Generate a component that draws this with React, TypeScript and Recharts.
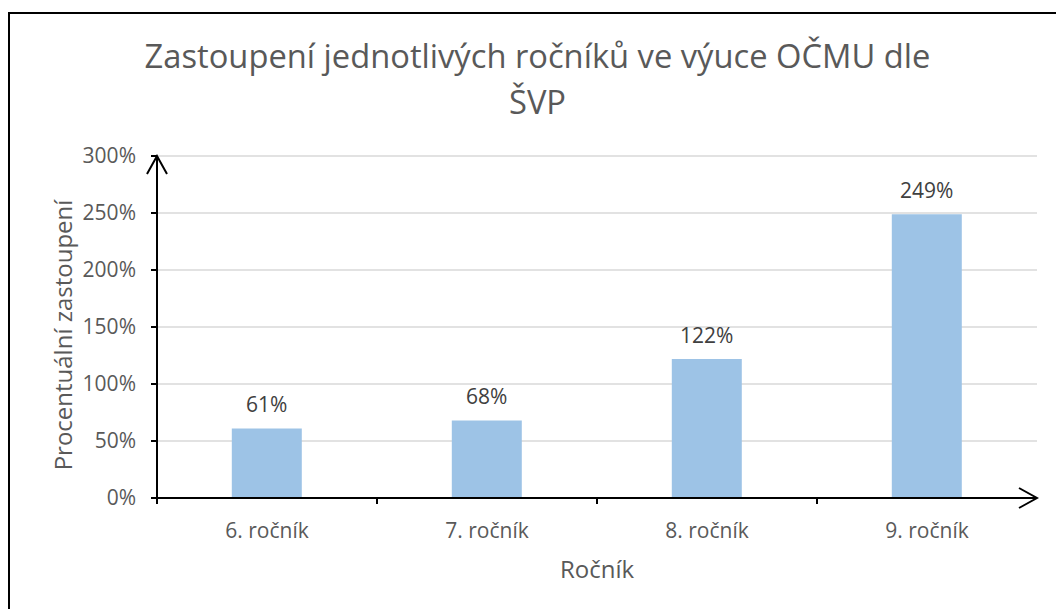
import React from 'react';
import { BarChart, Bar, XAxis, YAxis, CartesianGrid, LabelList, Label } from 'recharts';

const categories = ['6. ročník', '7. ročník', '8. ročník', '9. ročník'];
const values = [0.61, 0.68, 1.22, 2.49];
const yTicks = [0, 0.5, 1, 1.5, 2, 2.5, 3];
const boundaryTicks = [0, 1, 2, 3];
const titleLines = ['Zastoupení jednotlivých ročníků ve výuce OČMU dle', 'ŠVP'];
const yTitle = 'Procentuální zastoupení';
const xTitle = 'Ročník';

const data = categories.map((c, i) => ({ name: c, value: values[i] }));
const pct = (v: number) => `${Math.round(v * 100)}%`;

const FONT = "'Open Sans', sans-serif";

export default function App() {
  return (
    <div style={{ position: 'absolute', left: 0, top: 0, width: 1056, height: 609, overflow: 'hidden', background: '#fff' }}>
      <div style={{ position: 'absolute', left: 8, top: 12, width: 1200, height: 800, borderTop: '2px solid #000', borderLeft: '2px solid #000' }} />
      <svg width={0} height={0} style={{ position: 'absolute' }}>
        <defs>
          <marker id="arrow" viewBox="-2 -12 22 24" refX={18} refY={0} markerWidth={22} markerHeight={24} markerUnits="userSpaceOnUse" orient="auto-start-reverse">
            <path d="M0,-10 L18,0 L0,10" fill="none" stroke="#000" strokeWidth={2} />
          </marker>
        </defs>
      </svg>
      <div style={{ position: 'absolute', left: 0, width: 1075, top: 33, textAlign: 'center', fontFamily: FONT, fontSize: 32.7, lineHeight: '46px', color: '#595959' }}>
        {titleLines.map((t) => (
          <div key={t}>{t}</div>
        ))}
      </div>
      <div style={{ position: 'absolute', left: 0, top: 0 }}>
        <BarChart width={1056} height={609} data={data} margin={{ top: 156, right: 19, bottom: 0, left: 0 }} barCategoryGap="34%" style={{ fontFamily: FONT }}>
          <CartesianGrid horizontal vertical={false} stroke="#D9D9D9" strokeWidth={1.5} xAxisId="cat" />
          <XAxis
            xAxisId="b"
            type="number"
            dataKey="value"
            domain={[0, 4]}
            ticks={boundaryTicks}
            allowDataOverflow
            height={1}
            tick={() => null}
            tickSize={6}
            tickLine={{ stroke: '#000', strokeWidth: 2 }}
            axisLine={{ stroke: '#000', strokeWidth: 2, markerEnd: 'url(#arrow)' }}
          />
          <XAxis
            xAxisId="cat"
            dataKey="name"
            height={110}
            axisLine={false}
            tickLine={false}
            tickSize={0}
            tickMargin={24}
            tick={{ fill: '#595959', fontSize: 21 }}
          >
            <Label value={xTitle} position="insideBottom" offset={31} fill="#595959" fontSize={24} />
          </XAxis>
          <YAxis
            width={157}
            domain={[0, 3]}
            ticks={yTicks}
            interval={0}
            tickFormatter={pct}
            tickSize={6}
            tickMargin={15}
            tick={{ fill: '#595959', fontSize: 21 }}
            tickLine={{ stroke: '#000', strokeWidth: 2 }}
            axisLine={{ stroke: '#000', strokeWidth: 2, markerStart: 'url(#arrow)' }}
          >
            <Label
              content={(props: any) => {
                const vb = props.viewBox || {};
                const cx = (vb.x || 0) + 62;
                const cy = (vb.y || 0) + (vb.height || 0) / 2 + 8;
                return (
                  <text x={cx} y={cy} transform={`rotate(-90 ${cx} ${cy})`} textAnchor="middle" dominantBaseline="central" fill="#595959" fontSize={24} fontFamily={FONT}>
                    {yTitle}
                  </text>
                );
              }}
            />
          </YAxis>
          <Bar xAxisId="cat" dataKey="value" fill="#9DC3E6" isAnimationActive={false}>
            <LabelList dataKey="value" position="top" offset={16} formatter={(v: any) => pct(Number(v))} fill="#404040" fontSize={21} />
          </Bar>
        </BarChart>
      </div>
    </div>
  );
}
